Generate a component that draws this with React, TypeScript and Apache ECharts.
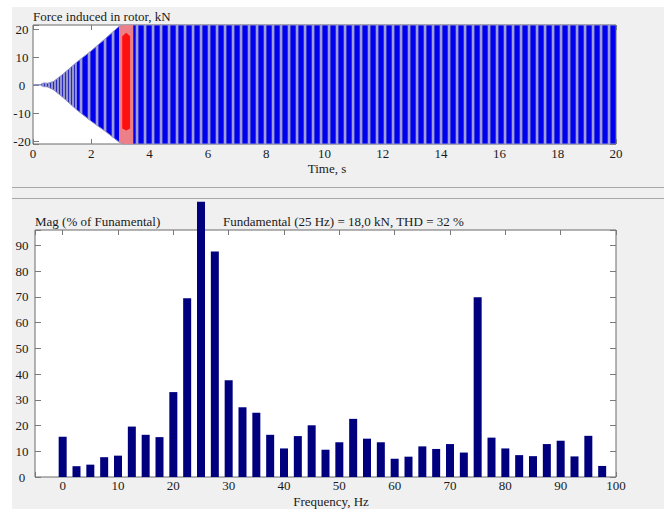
import React, { useEffect, useRef } from "react";
import * as echarts from "echarts";

// ---------- Top panel: force induced in rotor (envelope) ----------
const forceTitle = "Force induced in rotor, kN";
const timeAxisName = "Time, s";
const timeTicks = [0, 2, 4, 6, 8, 10, 12, 14, 16, 18, 20];
const forceTicks = [-20, -10, 0, 10, 20];

const envTime = [0, 0.25, 0.35, 0.5, 0.7, 1.0, 1.5, 2.0, 2.5, 2.95, 3.1, 3.44, 20];
const envUpper = [0.2, 0.2, 0.8, 0.7, 1.3, 3.7, 8.2, 12.3, 16.8, 21.0, 21.5, 21.5, 21.5];
const envLower = [0.1, 0.1, -0.5, -0.6, -1.6, -4.1, -8.8, -12.9, -16.6, -20.3, -21, -21, -21];

// analysed window (highlighted in the signal)
const fftWindow = [2.95, 3.44];
const redTime = [3.06, 3.2, 3.33];
const redUpper = [17.5, 18.7, 17.5];
const redLower = [-15.5, -16.2, -15.5];

// ---------- Bottom panel: FFT spectrum ----------
const magTitle = "Mag (% of Funamental)";
const fftInfo = "Fundamental (25 Hz) = 18,0 kN, THD = 32 %";
const freqAxisName = "Frequency, Hz";
const freqs = [0, 2.5, 5, 7.5, 10, 12.5, 15, 17.5, 20, 22.5, 25, 27.5, 30, 32.5, 35, 37.5, 40, 42.5, 45, 47.5,
  50, 52.5, 55, 57.5, 60, 62.5, 65, 67.5, 70, 72.5, 75, 77.5, 80, 82.5, 85, 87.5, 90, 92.5, 95, 97.5];
const mags = [15.6, 4.2, 4.8, 7.7, 8.3, 19.6, 16.4, 15.5, 33.0, 69.5, 107, 87.6, 37.6, 27.1, 25.0, 16.4, 11.1, 15.9, 20.1, 10.6,
  13.5, 22.6, 14.9, 13.5, 7.1, 7.9, 11.9, 10.9, 12.8, 9.5, 69.9, 15.3, 11.1, 8.5, 8.1, 12.8, 14.1, 8.0, 16.0, 4.3];
const magTicks = [0, 10, 20, 30, 40, 50, 60, 70, 80, 90];
const freqTicks = [0, 10, 20, 30, 40, 50, 60, 70, 80, 90, 100];

const FONT = "'Liberation Serif', 'Times New Roman', serif";
const TEXT = "#1a1a1a";
const FRAME = "#6a6a6a";
const TICK = "#7a7a7a";

function stripes(cols: string[]) {
  const c = document.createElement("canvas");
  c.width = cols.length;
  c.height = 1;
  const ctx = c.getContext("2d")!;
  cols.forEach((col, i) => {
    ctx.fillStyle = col;
    ctx.fillRect(i, 0, 1, 1);
  });
  return { image: c, repeat: "repeat", imageWidth: cols.length, imageHeight: 1 } as any;
}

function bandRender(fill: any) {
  return (params: any, api: any) => {
    if (params.dataIndexInside !== 0) return null;
    const n = params.dataInsideLength;
    const top: number[][] = [];
    const bot: number[][] = [];
    for (let i = 0; i < n; i++) {
      top.push(api.coord([api.value(0, i), api.value(1, i)]));
      bot.push(api.coord([api.value(0, i), api.value(2, i)]));
    }
    return {
      type: "polygon",
      shape: { points: top.concat(bot.reverse()) },
      style: { fill, stroke: null, lineWidth: 0 },
    };
  };
}

function envSlice(t0: number, t1: number) {
  const out: number[][] = [];
  envTime.forEach((t, i) => {
    if (t >= t0 && t <= t1) out.push([t, envUpper[i], envLower[i]]);
  });
  return out;
}

const labelFmt = (ticks: number[]) => (v: number) =>
  ticks.some((t) => Math.abs(t - v) < 1e-6) ? String(v) : "";

export default function App() {
  const ref = useRef<HTMLDivElement>(null);

  useEffect(() => {
    if (!ref.current) return;
    const chart = echarts.init(ref.current, undefined, { renderer: "svg" });

    const earlyFill = stripes(["#9494cc", "#9494cc", "#2a2ab8"]);
    const steadyFill = stripes(["#9c9cd6", "#9c9cd6", "#4040e0", "#0000ee", "#0000f0", "#0000f0", "#0000ee", "#3030e4"]);

    const axisCommon = {
      axisLine: { show: false, onZero: false },
      splitLine: { show: false },
      axisTick: { inside: true, lineStyle: { color: TICK } },
    };
    const labelStyle = { color: TEXT, fontFamily: FONT, fontSize: 13 };
    const textStyle = (text: string, x: number, y: number, align: string) => ({
      type: "text",
      x,
      y,
      style: { text, fill: TEXT, font: `13px ${FONT}`, textAlign: align, textVerticalAlign: "middle" },
      z: 10,
    });

    chart.setOption({
      animation: false,
      backgroundColor: "transparent",
      grid: [
        { left: 33, top: 25, width: 583, height: 119, show: true, backgroundColor: "#ffffff", borderColor: FRAME, borderWidth: 1 },
        { left: 35, top: 230, width: 581, height: 247, show: true, backgroundColor: "#ffffff", borderColor: FRAME, borderWidth: 1 },
      ],
      xAxis: [
        {
          ...axisCommon, gridIndex: 0, type: "value", position: "bottom", min: 0, max: 20, interval: 2,
          axisTick: { ...axisCommon.axisTick, length: 5 },
          axisLabel: { ...labelStyle, margin: 3, formatter: labelFmt(timeTicks) },
        },
        {
          ...axisCommon, gridIndex: 0, type: "value", position: "top", min: 0, max: 20, interval: 2,
          axisTick: { ...axisCommon.axisTick, length: 5 }, axisLabel: { show: false },
        },
        {
          ...axisCommon, gridIndex: 1, type: "value", position: "bottom", min: -5, max: 100, minInterval: 10, maxInterval: 10,
          axisTick: { ...axisCommon.axisTick, length: 5 },
          axisLabel: { ...labelStyle, margin: 2, formatter: labelFmt(freqTicks) },
        },
        {
          ...axisCommon, gridIndex: 1, type: "value", position: "top", min: -5, max: 100, minInterval: 10, maxInterval: 10,
          axisTick: { ...axisCommon.axisTick, length: 5 }, axisLabel: { show: false },
        },
      ],
      yAxis: [
        {
          ...axisCommon, gridIndex: 0, type: "value", position: "left", min: -21, max: 21.5, minInterval: 10, maxInterval: 10,
          axisTick: { ...axisCommon.axisTick, length: 6 },
          axisLabel: { ...labelStyle, align: "center", margin: 11, formatter: labelFmt(forceTicks) },
        },
        {
          ...axisCommon, gridIndex: 0, type: "value", position: "right", min: -21, max: 21.5, minInterval: 10, maxInterval: 10,
          axisTick: { ...axisCommon.axisTick, length: 6 }, axisLabel: { show: false },
        },
        {
          ...axisCommon, gridIndex: 1, type: "value", position: "left", min: 0, max: 96, interval: 10,
          axisTick: { ...axisCommon.axisTick, length: 6 },
          axisLabel: { ...labelStyle, align: "center", margin: 13, formatter: labelFmt(magTicks) },
        },
        {
          ...axisCommon, gridIndex: 1, type: "value", position: "right", min: 0, max: 96, interval: 10,
          axisTick: { ...axisCommon.axisTick, length: 6 }, axisLabel: { show: false },
        },
      ],
      series: [
        {
          type: "custom", name: "build-up", xAxisIndex: 0, yAxisIndex: 0, clip: true, z: 2,
          renderItem: bandRender(earlyFill), data: envSlice(0, 1.5), encode: { x: 0, y: [1, 2] },
        },
        {
          type: "custom", name: "steady", xAxisIndex: 0, yAxisIndex: 0, clip: true, z: 2,
          renderItem: bandRender(steadyFill), data: envSlice(1.5, 20), encode: { x: 0, y: [1, 2] },
        },
        {
          type: "line", name: "upper", xAxisIndex: 0, yAxisIndex: 0, symbol: "none", z: 3, clip: true,
          lineStyle: { color: "#8c8cc8", width: 1 }, data: envTime.map((t, i) => [t, envUpper[i]]),
        },
        {
          type: "line", name: "lower", xAxisIndex: 0, yAxisIndex: 0, symbol: "none", z: 3, clip: true,
          lineStyle: { color: "#8c8cc8", width: 1 }, data: envTime.map((t, i) => [t, envLower[i]]),
        },
        {
          type: "custom", name: "window", xAxisIndex: 0, yAxisIndex: 0, clip: true, z: 4,
          renderItem: bandRender("#ec8088"), data: envSlice(fftWindow[0], fftWindow[1]), encode: { x: 0, y: [1, 2] },
        },
        {
          type: "custom", name: "window-core", xAxisIndex: 0, yAxisIndex: 0, clip: true, z: 5,
          renderItem: bandRender("#ff1010"), data: redTime.map((t, i) => [t, redUpper[i], redLower[i]]), encode: { x: 0, y: [1, 2] },
        },
        {
          type: "bar", name: "mag", xAxisIndex: 2, yAxisIndex: 2, barWidth: 8, clip: false, z: 2,
          itemStyle: { color: "#00007f" }, data: freqs.map((f, i) => [f, mags[i]]),
        },
      ],
      graphic: [
        { type: "line", shape: { x1: 12, y1: 187.5, x2: 664, y2: 187.5 }, style: { stroke: "#a8a8a8", lineWidth: 1 } },
        { type: "line", shape: { x1: 12, y1: 198.5, x2: 664, y2: 198.5 }, style: { stroke: "#a8a8a8", lineWidth: 1 } },
        textStyle(forceTitle, 33, 16, "left"),
        textStyle(timeAxisName, 327, 168, "center"),
        textStyle(magTitle, 35, 221.5, "left"),
        textStyle(fftInfo, 223, 221.5, "left"),
        textStyle(freqAxisName, 331, 501, "center"),
      ],
    });

    return () => chart.dispose();
  }, []);

  return (
    <div style={{ position: "fixed", left: 0, top: 0, width: 664, height: 509, background: "#ffffff" }}>
      <div style={{ position: "absolute", left: 12, top: 7, right: 0, bottom: 0, background: "#f0f0f0" }} />
      <div ref={ref} style={{ position: "absolute", left: 0, top: 0, width: 664, height: 509 }} />
    </div>
  );
}
